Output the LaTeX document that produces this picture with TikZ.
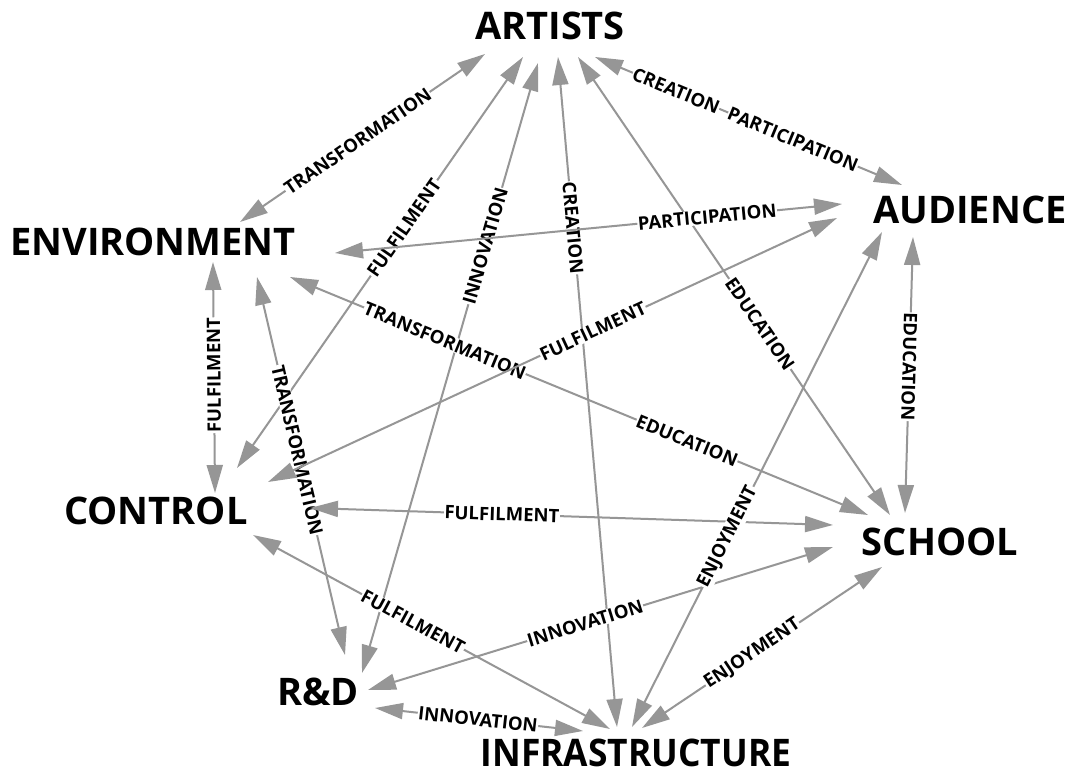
\documentclass[tikz,border=0pt]{standalone}
\usepackage{fontspec}
\setmainfont{Open Sans}
\usetikzlibrary{arrows.meta}
\definecolor{edgegray}{RGB}{150,150,150}
\begin{document}
\begin{tikzpicture}[x=1pt,y=-1pt,
  ent/.style={font=\fontsize{38}{40}\selectfont\bfseries, inner sep=0pt, text=black},
  rel/.style={draw=edgegray, line width=2pt,
    {Triangle[length=28pt,width=16pt]}-{Triangle[length=28pt,width=16pt]}},
  lab/.style={font=\fontsize{18.5}{19}\selectfont\bfseries, sloped, fill=white,
    inner sep=0.5pt, text=black},
]
\useasboundingbox[fill=white] (0,0) rectangle (1072,773);

\node[ent] (art) at (550,26) {ARTISTS};
\node[ent] (aud) at (970,210) {AUDIENCE};
\node[ent] (env) at (153,242) {ENVIRONMENT};
\node[ent] (con) at (156,511) {CONTROL};
\node[ent] (sch) at (940,542) {SCHOOL};
\node[ent] (rd)  at (318,692) {R\&D};
\node[ent, xscale=0.93] (inf) at (636,753) {INFRASTRUCTURE};

% E1 artists - environment
\draw[rel] ([shift={(-65,28)}]art.center) -- ([shift={(87,-20)}]env.center)
  node[lab,pos=0.52] {TRANSFORMATION};
% E2 artists - control
\draw[rel] ([shift={(-27,31)}]art.center) -- ([shift={(81,-43)}]con.center)
  node[lab,pos=0.416] {FULFILMENT};
% E3 artists - R&D
\draw[rel] ([shift={(-12,37)}]art.center) -- ([shift={(44,-19)}]rd.center)
  node[lab,pos=0.30] {INNOVATION};
% E4 artists - infrastructure
\draw[rel] ([shift={(8,31)}]art.center) -- ([shift={(-19,-26)}]inf.center)
  node[lab,pos=0.255] {CREATION};
% E5 artists - school
\draw[rel] ([shift={(28,31)}]art.center) -- ([shift={(-50,-27)}]sch.center)
  node[lab,pos=0.583] {EDUCATION};
% E6 artists - audience
\draw[rel] ([shift={(45,31)}]art.center) -- ([shift={(-68,-25)}]aud.center)
  node[lab,pos=0.264] {CREATION}
  node[lab,pos=0.645] {PARTICIPATION};
% E7 environment - audience
\draw[rel] ([shift={(182,11)}]env.center) -- ([shift={(-128,-6)}]aud.center)
  node[lab,pos=0.734] {PARTICIPATION};
% E8 control - environment
\draw[rel] ([shift={(59,-18)}]con.center) -- ([shift={(60,20)}]env.center)
  node[lab,allow upside down,pos=0.51] {FULFILMENT};
% E9 environment - R&D
\draw[rel] ([shift={(104,35)}]env.center) -- ([shift={(27,-37)}]rd.center)
  node[lab,pos=0.458] {TRANSFORMATION};
% E10 environment - school
\draw[rel] ([shift={(137,35)}]env.center) -- ([shift={(-72,-27)}]sch.center)
  node[lab,pos=0.268] {TRANSFORMATION}
  node[lab,pos=0.687] {EDUCATION};
% E11 control - audience
\draw[rel] ([shift={(112,-29)}]con.center) -- ([shift={(-133,8)}]aud.center)
  node[lab,pos=0.571] {FULFILMENT};
% E12 control - school
\draw[rel] ([shift={(154,-3)}]con.center) -- ([shift={(-107,-17)}]sch.center)
  node[lab,pos=0.367] {FULFILMENT};
% E13 control - infrastructure
\draw[rel] ([shift={(97,24)}]con.center) -- ([shift={(-26,-24)}]inf.center)
  node[lab,pos=0.448] {FULFILMENT};
% E14 R&D - school
\draw[rel] ([shift={(50,-2)}]rd.center) -- ([shift={(-107,5)}]sch.center)
  node[lab,pos=0.467] {INNOVATION};
% E15 R&D - infrastructure
\draw[rel] ([shift={(57,16)}]rd.center) -- ([shift={(-53,-22)}]inf.center)
  node[lab,pos=0.495] {INNOVATION};
% E16 infrastructure - audience
\draw[rel] ([shift={(-4,-26)}]inf.center) -- ([shift={(-88,22)}]aud.center)
  node[lab,pos=0.384] {ENJOYMENT};
% E17 audience - school
\draw[rel] ([shift={(-57,27)}]aud.center) -- ([shift={(-35,-29)}]sch.center)
  node[lab,allow upside down,pos=0.47] {EDUCATION};
% E18 infrastructure - school
\draw[rel] ([shift={(6,-25)}]inf.center) -- ([shift={(-58,25)}]sch.center)
  node[lab,pos=0.46] {ENJOYMENT};
\end{tikzpicture}
\end{document}
